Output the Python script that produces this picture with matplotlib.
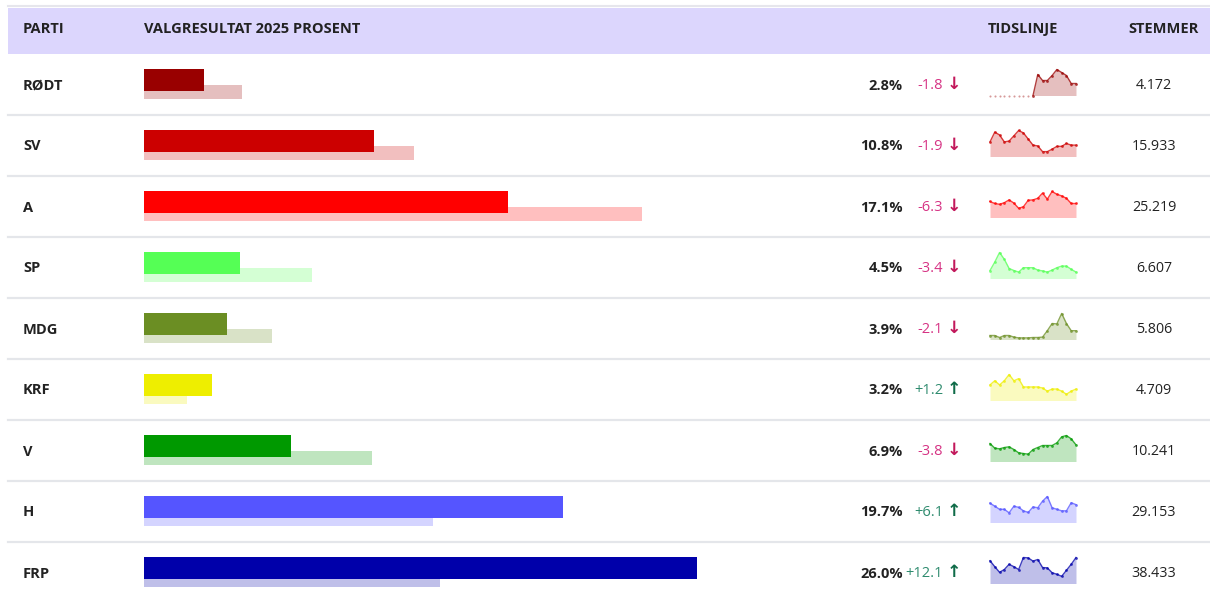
#!/usr/bin/env python3
"""
Valgresultat 2025 : tabell med stolper, endring, tidslinje og stemmer
"""
import numpy as np
import matplotlib
matplotlib.use("Agg")
import matplotlib.pyplot as plt

plt.rcParams['font.family'] = ['Open Sans', 'DejaVu Sans']

# data
partier = ["RØDT", "SV", "A", "SP", "MDG", "KRF", "V", "H", "FRP"]
resultat = [2.8, 10.8, 17.1, 4.5, 3.9, 3.2, 6.9, 19.7, 26.0]
endring = [-1.8, -1.9, -6.3, -3.4, -2.1, 1.2, -3.8, 6.1, 12.1]
stemmer = ["4.172", "15.933", "25.219", "6.607", "5.806", "4.709",
           "10.241", "29.153", "38.433"]
farger = ["#990000", "#cc0000", "#ff0000", "#55ff55", "#6b8e23",
          "#eeee00", "#009900", "#5555ff", "#0000aa"]

# tidslinje (meningsmalinger), nan = ingen maling
nan = np.nan
tid_rodt = [nan, nan, nan, nan, nan, nan, nan, nan, nan, nan,
            3.7, 3.1, 3.1, 3.6, 4.2, 3.9, 3.6, 2.8, 2.8]
tid_sv = [11.6, 14.0, 13.3, 11.6, 11.8, 13.1, 14.4, 13.8, 12.3, 10.8,
          10.6, 9.2, 9.2, 9.8, 10.5, 10.5, 11.2, 10.8, 10.8]
tid_a = [17.6, 17.1, 16.9, 17.3, 18.0, 17.2, 15.9, 16.3, 17.9, 18.0,
         18.4, 19.7, 18.2, 20.1, 19.4, 19.0, 18.4, 17.1, 17.1]
tid_sp = [4.9, 7.0, 9.4, 7.7, 5.4, 4.9, 4.5, 5.6, 5.6, 5.6,
          5.0, 4.8, 4.5, 5.0, 5.6, 6.0, 6.0, 5.2, 4.5]
tid_mdg = [2.7, 2.7, 2.2, 2.7, 2.7, 2.3, 2.1, 2.1, 2.1, 2.2,
           2.2, 2.3, 3.9, 5.7, 5.6, 8.2, 5.7, 3.9, 3.9]
tid_krf = [3.6, 4.0, 3.6, 4.0, 4.6, 4.0, 4.2, 3.4, 3.4, 3.4,
           3.4, 3.3, 3.0, 3.2, 3.2, 3.0, 2.7, 3.0, 3.2]
tid_v = [7.1, 6.4, 6.3, 6.5, 6.6, 6.2, 5.7, 5.6, 5.5, 6.2,
         6.5, 6.8, 6.8, 6.8, 7.2, 8.1, 8.3, 7.8, 6.9]
tid_h = [20.1, 19.3, 18.5, 18.5, 17.6, 19.3, 19.0, 18.1, 17.7, 19.1,
         18.9, 20.6, 21.8, 18.9, 18.5, 18.1, 18.1, 20.2, 19.7]
tid_frp = [25.2, 23.7, 22.3, 23.0, 24.3, 23.7, 23.0, 26.0, 25.9, 25.1,
           25.5, 23.5, 23.4, 22.2, 21.8, 21.3, 22.8, 24.3, 26.0]
tidslinjer = [tid_rodt, tid_sv, tid_a, tid_sp, tid_mdg, tid_krf,
              tid_v, tid_h, tid_frp]
# bunn for hver tidslinje-akse
tid_bunn = [1.6, 8.0, 13.6, 2.9, 1.7, 2.1, 4.4, 15.1, 19.5]

W, H = 1210, 594
TOPP = 54       # bunn av overskrift
RAD = 61        # radhoyde
TEKST = "#222222"
FS = 10.5


def fig_axes(x0, y0, x1, y1):
    """ lager akser fra pikselkoordinater (y nedover) """
    return fig.add_axes([x0 / W, 1 - y1 / H, (x1 - x0) / W, (y1 - y0) / H])


fig = plt.figure(figsize=(W / 100, H / 100), dpi=100)

# bakgrunn / tekst i piksler
ax = fig_axes(0, 0, W, H)
ax.set_xlim(0, W)
ax.set_ylim(H, 0)
ax.axis("off")

ax.add_patch(plt.Rectangle((8, 8), W - 8, TOPP - 8, color="#dcd6fd", lw=0))
ax.plot([8, W], [5.5, 5.5], color="#e6e6ec", lw=1.5)
for i in range(1, len(partier)):
    y = TOPP + RAD * i
    ax.plot([8, W], [y, y], color="#e4e6ea", lw=1.6)

hy = 29
ax.text(23, hy, "PARTI", fontsize=FS, fontweight="bold", color=TEKST, va="center")
ax.text(144, hy, "VALGRESULTAT 2025 PROSENT", fontsize=FS, fontweight="bold",
        color=TEKST, va="center")
ax.text(988, hy, "TIDSLINJE", fontsize=FS, fontweight="bold", color=TEKST, va="center")
ax.text(1164, hy, "STEMMER", fontsize=FS, fontweight="bold", color=TEKST,
        va="center", ha="center")

for i, parti in enumerate(partier):
    yc = TOPP + RAD * i + RAD / 2 + 1
    ax.text(23, yc, parti, fontsize=FS, fontweight="bold", color=TEKST, va="center")
    ax.text(903, yc, f"{resultat[i]:.1f}%", fontsize=FS, fontweight="bold",
            color=TEKST, va="center", ha="right")
    d = endring[i]
    if d < 0:
        farge_t, farge_p, pil = "#d63384", "#c2185b", "↓"
    else:
        farge_t, farge_p, pil = "#2e8b6e", "#0f6b48", "↑"
    ax.text(943, yc, f"{d:+.1f}", fontsize=FS, color=farge_t, va="center", ha="right")
    ax.text(954, yc - 1.5, pil, fontsize=12.5, fontweight="bold", color=farge_p,
            va="center", ha="center", family=["DejaVu Sans"])
    ax.text(1154, yc, stemmer[i], fontsize=10.3, color=TEKST, va="center", ha="center")

# stolper: prosent-akse, 21.27 px per prosent
n = len(partier)
skala = 21.27
bax = fig_axes(144, TOPP, 144 + 30 * skala, TOPP + RAD * n)
bax.set_xlim(0, 30)
bax.set_ylim(n - 0.5, -0.5)
bax.axis("off")
rader = np.arange(n)
forrige = [r - e for r, e in zip(resultat, endring)]
bax.barh(rader + 0.115, forrige, height=0.23, color=farger, alpha=0.25, lw=0)
bax.barh(rader - 0.066, resultat, height=0.36, color=farger, lw=0)

# tidslinjer
for i, serie in enumerate(tidslinjer):
    yc = TOPP + RAD * i + RAD / 2
    sax = fig_axes(990, yc - 15, 1076, yc + 11)
    verdier = np.array(serie, dtype=float)
    bunn = tid_bunn[i]
    x = np.arange(len(verdier))
    mangler = np.isnan(verdier)
    start = int(np.where(mangler)[0].max()) if mangler.any() else 0
    v = np.where(mangler, bunn, verdier)
    sax.set_xlim(0, len(v) - 1)
    sax.set_ylim(bunn, np.nanmax(verdier))
    sax.axis("off")
    sax.fill_between(x[start:], v[start:], bunn, color=farger[i], alpha=0.25, lw=0)
    sax.plot(x[start:], v[start:], color=farger[i], alpha=0.75, lw=1, clip_on=False)
    sax.plot(x[start:], v[start:], "o", color=farger[i], alpha=0.75, ms=2, mew=0,
             clip_on=False)
    if mangler.any():
        sax.plot(x[:start], v[:start], "o", color=farger[i], alpha=0.4, ms=1.5,
                 mew=0, clip_on=False)

fig.savefig("out.png", dpi=100)
